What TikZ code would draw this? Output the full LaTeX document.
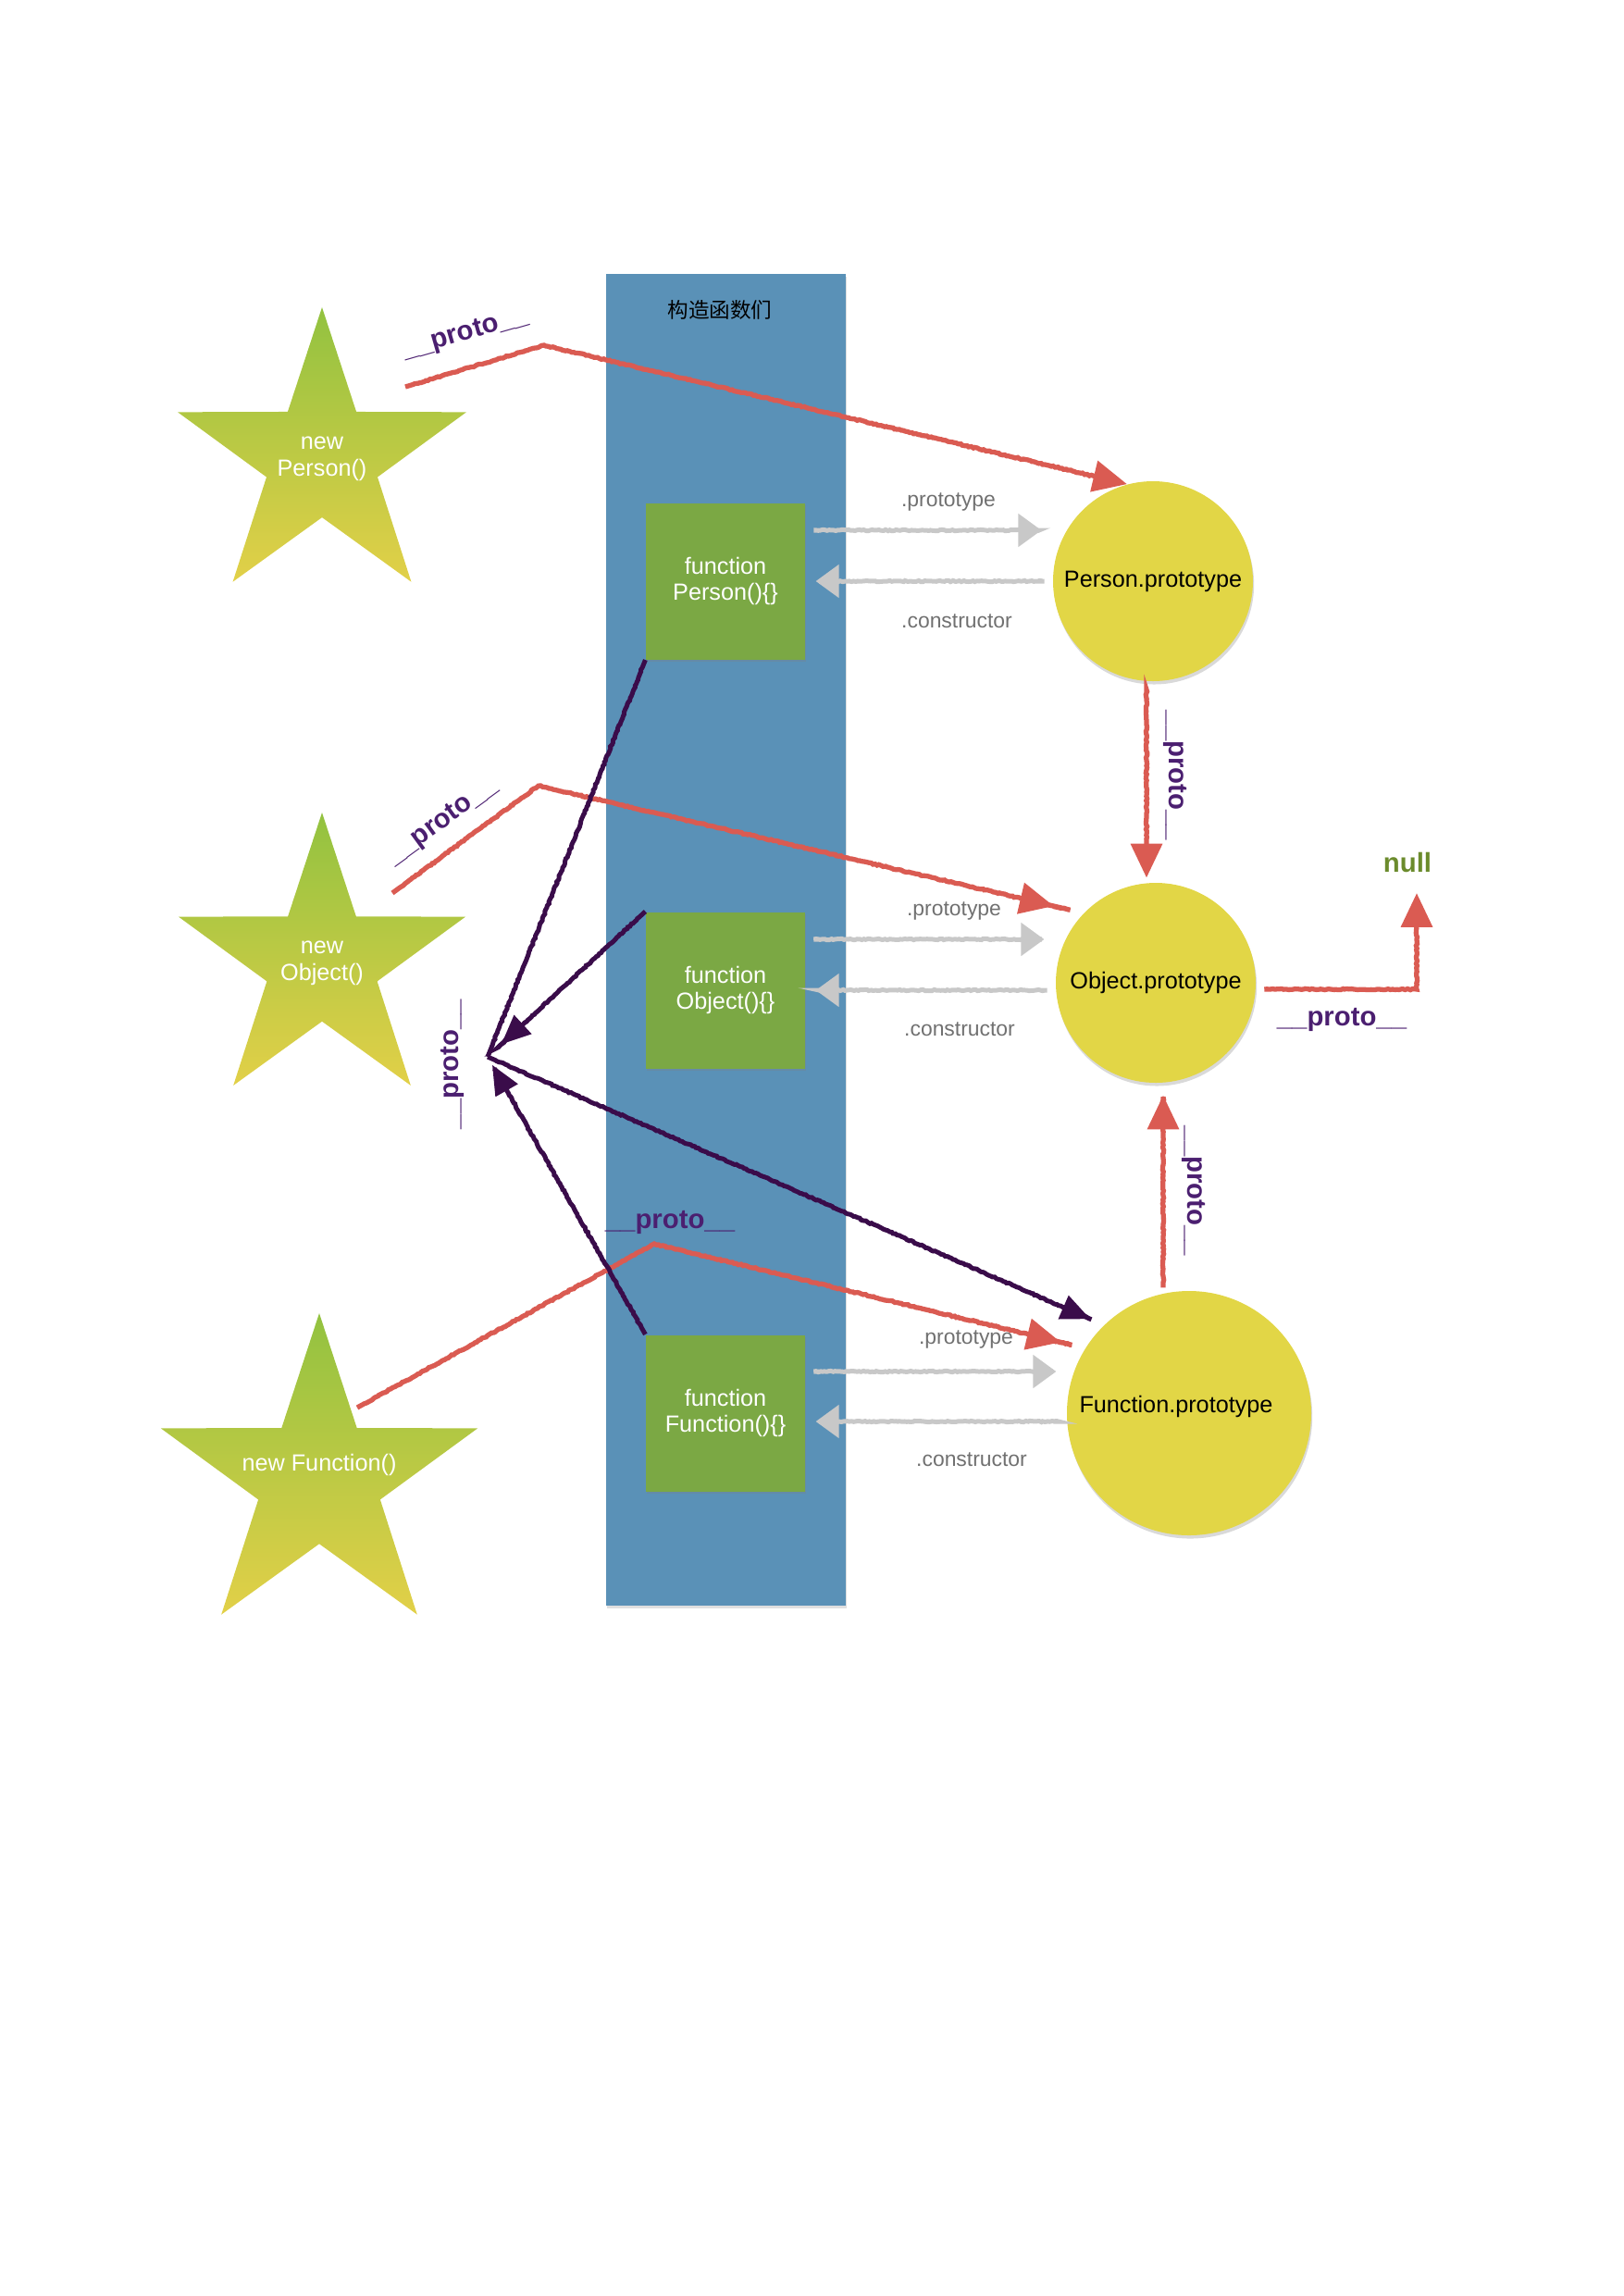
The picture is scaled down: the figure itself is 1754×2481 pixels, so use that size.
\documentclass[tikz,border=0pt]{standalone}
\usepackage{fontspec}
\setmainfont{Liberation Sans}
\newfontfamily\cjkfont{Noto Sans CJK SC}
\usetikzlibrary{shapes.geometric,arrows.meta,positioning,calc,shadows,decorations.pathmorphing}
\definecolor{ColumnBlue}{HTML}{5A91B7}
\definecolor{Leaf}{HTML}{7BA844}
\definecolor{Lemon}{HTML}{E2D646}
\definecolor{StarTop}{HTML}{92C240}
\definecolor{StarBottom}{HTML}{E2D048}
\definecolor{Brick}{HTML}{DA5B52}
\definecolor{Plum}{HTML}{3A0C4A}
\definecolor{PlumText}{HTML}{4B1F70}
\definecolor{Mist}{HTML}{C8C8C8}
\definecolor{Slate}{HTML}{707070}
\definecolor{Moss}{HTML}{6B8B2C}
\newcommand{\pxu}{0.0119726cm}
\tikzset{
    % instances
    starshape/.style={
        star,
        star points=5,
        star point ratio=2.6,
        inner sep=0pt,
        draw=none,
        top color=StarTop,
        bottom color=StarBottom
    },
    startext/.style={
        text=white,
        align=center,
        font=\fontsize{8.6}{9.8}\selectfont
    },
    % constructors
    columnbox/.style={
        rectangle,
        fill=ColumnBlue,
        minimum width=259*\pxu,
        minimum height=1439*\pxu,
        drop shadow={shadow xshift=0.5pt, shadow yshift=-1pt, opacity=0.25}
    },
    columntitle/.style={
        font=\cjkfont\fontsize{7.7}{9}\selectfont
    },
    funbox/.style={
        rectangle,
        fill=Leaf,
        text=white,
        minimum width=172*\pxu,
        minimum height=169*\pxu,
        align=center,
        font=\fontsize{8.6}{9.8}\selectfont,
        drop shadow={shadow xshift=0.5pt, shadow yshift=-1pt, opacity=0.3}
    },
    % prototypes
    protocircle/.style={
        circle,
        fill=Lemon,
        inner sep=0pt,
        font=\fontsize{8.6}{9.8}\selectfont,
        drop shadow={shadow xshift=0.4pt, shadow yshift=-1.2pt, opacity=0.3}
    },
    nulltext/.style={
        text=Moss,
        font=\fontsize{10}{12}\selectfont\bfseries
    },
    linklabel/.style={
        text=Slate,
        font=\fontsize{7.8}{9}\selectfont
    },
    protolabel/.style={
        text=PlumText,
        font=\fontsize{10}{12}\selectfont\bfseries
    },
    % connectors
    rough/.style={
        decorate,
        decoration={random steps, segment length=0.8pt, amplitude=0.22pt,
            pre length=3pt, post length=5pt}
    },
    redarrow/.style={
        rough,
        draw=Brick,
        line width=1.8pt,
        -{Triangle[length=0.44cm, width=0.4cm]}
    },
    plumline/.style={
        rough,
        draw=Plum,
        line width=1.7pt
    },
    plumarrow/.style={
        plumline,
        -{Triangle[length=0.38cm, width=0.32cm]}
    },
    grayarrow/.style={
        rough,
        draw=Mist,
        line width=1.7pt,
        -{Triangle[length=0.3cm, width=0.42cm]}
    }
}
\begin{document}
\pgfmathsetseed{7}
\begin{tikzpicture}[x=0.0119726cm, y=-0.0119726cm]
    \useasboundingbox (0,0) rectangle (1754,2481);

    % constructor column
    \node[columnbox] (column) at (784.5,1015.5) {};
    \node[columntitle] (title) at (778,335) {构造函数们};
    \node[funbox] (pfun) at (784,628) {function\\Person()\{\}};
    \node[funbox] (ofun) at (784,1070) {function\\Object()\{\}};
    \node[funbox] (ffun) at (784,1527) {function\\Function()\{\}};

    % prototype objects
    \node[protocircle, minimum size=216*\pxu] (pproto) at (1246,628) {Person.prototype};
    \node[protocircle, minimum size=216*\pxu] (oproto) at (1249,1062) {Object.prototype};
    \node[protocircle, minimum size=264*\pxu] (fproto) at (1285,1527) {};
    \node (fprototext) at (1271,1520) {\fontsize{8.6}{9.8}\selectfont Function.prototype};
    \node[nulltext] (nullnode) at (1521,932) {null};

    % instances
    \node[starshape, minimum size=328*\pxu] (pstar) at (348,496) {};
    \node[startext] (pstartext) at (pstar) {new\\Person()};
    \node[starshape, minimum size=326*\pxu] (ostar) at (348,1041) {};
    \node[startext] (ostartext) at (ostar) {new\\Object()};
    \node[starshape, minimum size=360*\pxu] (fstar) at (345,1599) {};
    \node[startext] (fstartext) at ($(fstar)+(0,-16)$) {new Function()};

    % .prototype / .constructor
    \draw[grayarrow, shorten <=16*\pxu, shorten >=12*\pxu]
        ([yshift=55*\pxu]pfun.east) -- ([yshift=55*\pxu]pfun.east -| pproto.west);
    \draw[grayarrow, shorten <=15*\pxu, shorten >=11*\pxu]
        (pfun.east -| pproto.west) -- (pfun.east);
    \draw[grayarrow, shorten <=16*\pxu, shorten >=12*\pxu]
        ([yshift=55*\pxu]ofun.east) -- ([yshift=55*\pxu]ofun.east -| oproto.west);
    \draw[grayarrow, shorten <=15*\pxu, shorten >=11*\pxu]
        (ofun.east -| oproto.west) -- (ofun.east);
    \draw[grayarrow, shorten <=16*\pxu, shorten >=11*\pxu]
        ([yshift=45*\pxu]ffun.east) -- ([yshift=45*\pxu]ffun.east -| fproto.west);
    \draw[grayarrow, shorten <=14*\pxu, shorten >=11*\pxu]
        ([yshift=-9*\pxu]ffun.east -| fproto.west) -- ([yshift=-9*\pxu]ffun.east);
    \node[linklabel] (pprotolbl) at (1025,542) {.prototype};
    \node[linklabel] (pctorlbl) at (1034,671) {.constructor};
    \node[linklabel] (oprotolbl) at (1031,984) {.prototype};
    \node[linklabel] (octorlbl) at (1037,1112) {.constructor};
    \node[linklabel] (fprotolbl) at (1044,1447) {.prototype};
    \node[linklabel] (fctorlbl) at (1050,1577) {.constructor};

    % __proto__ of the instances
    \coordinate (pstart) at (438,418);
    \coordinate (pbend) at (588,373);
    \draw[redarrow] (pstart) -- (pbend) -- (pproto.105);
    \coordinate (ostart) at (424,965);
    \coordinate (obend) at (582,849);
    \draw[redarrow, shorten >=33*\pxu] (ostart) -- (obend) -- (oproto.136);
    \coordinate (fstart) at (386,1521);
    \coordinate (fbend) at (707,1344);
    \draw[redarrow, shorten >=27*\pxu] (fstart) -- (fbend) -- (fproto.148);
    \node[protolabel, rotate=16] (plink) at (503,361) {\_\_proto\_\_};
    \node[protolabel, rotate=36] (olink) at (478,888) {\_\_proto\_\_};
    \node[protolabel] (flink) at (724,1321) {\_\_proto\_\_};

    % __proto__ between prototypes
    \draw[redarrow, shorten <=12*\pxu, shorten >=5*\pxu]
        ([xshift=-7*\pxu]pproto.south) -- ([xshift=-7*\pxu]pproto.south |- oproto.north);
    \draw[redarrow, shorten <=3*\pxu, shorten >=13*\pxu]
        ([xshift=-28*\pxu]fproto.north) -- ([xshift=-28*\pxu]fproto.north |- oproto.south);
    \draw[redarrow, shorten <=16*\pxu]
        ([yshift=-7*\pxu]oproto.east) -| ([xshift=10*\pxu, yshift=-12*\pxu]nullnode.south);
    \node[protolabel, rotate=-90] (polink) at (1270,838) {\_\_proto\_\_};
    \node[protolabel, rotate=-90] (folink) at (1290,1287) {\_\_proto\_\_};
    \node[protolabel] (nulllink) at (1450,1102) {\_\_proto\_\_};

    % __proto__ of the constructors
    \coordinate (hub) at (527,1142);
    \draw[plumline] (pfun.south west) -- (hub);
    \draw[plumarrow, shorten >=20*\pxu] (ofun.north west) -- (hub);
    \draw[plumarrow, shorten >=10*\pxu] (ffun.north west) -- (hub);
    \draw[plumarrow, shorten >=16*\pxu] (hub) -- (fproto.134);
    \node[protolabel, rotate=90] (hublink) at (489,1150) {\_\_proto\_\_};
\end{tikzpicture}
\end{document}
